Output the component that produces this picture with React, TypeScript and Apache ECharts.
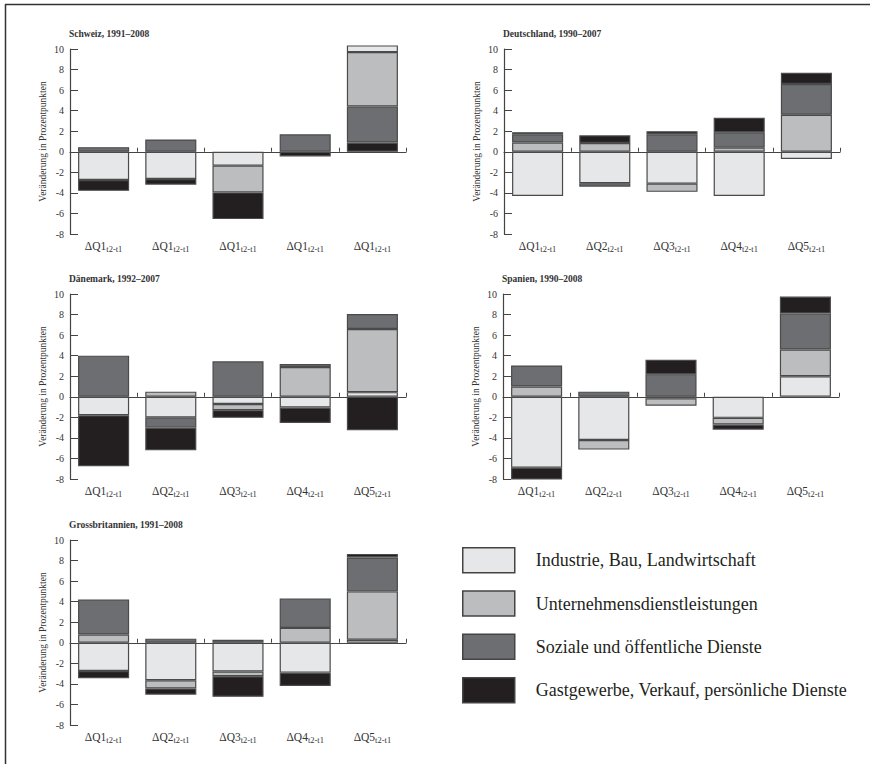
import React, { useEffect, useRef } from 'react';
import * as echarts from 'echarts';

const SECTORS = [
  'Industrie, Bau, Landwirtschaft',
  'Unternehmensdienstleistungen',
  'Soziale und öffentliche Dienste',
  'Gastgewerbe, Verkauf, persönliche Dienste',
];
const COLORS = ['#e6e7e8', '#bcbdbf', '#6d6e71', '#231f20'];

const CATS_CH = ['ΔQ1', 'ΔQ1', 'ΔQ1', 'ΔQ1', 'ΔQ1'];
const CATS = ['ΔQ1', 'ΔQ2', 'ΔQ3', 'ΔQ4', 'ΔQ5'];
const SUB = 't2-t1';

// Schweiz, 1991–2008
const CH_IND = [-2.75, -2.65, -1.35, 0, 0.65];
const CH_UNT = [0, 0, -2.6, 0, 5.3];
const CH_SOZ = [0.45, 1.2, 0, 1.7, 3.5];
const CH_GAST = [-1.05, -0.55, -2.6, -0.45, 0.9];

// Deutschland, 1990–2007
const DE_IND = [-4.3, -3.05, -3.1, -4.3, -0.7];
const DE_UNT = [0.9, 0.85, -0.8, 0.4, 3.6];
const DE_SOZ = [0.8, -0.35, 1.7, 1.5, 3.0];
const DE_GAST = [0.2, 0.75, 0.3, 1.4, 1.1];

// Dänemark, 1992–2007
const DK_IND = [-1.8, -2.0, -0.7, -1.05, 0.45];
const DK_UNT = [0, 0.5, -0.6, 2.9, 6.15];
const DK_SOZ = [4.0, -1.0, 3.45, 0.3, 1.45];
const DK_GAST = [-4.95, -2.2, -0.75, -1.5, -3.25];

// Spanien, 1990–2008
const ES_IND = [-6.9, -4.2, -0.15, -2.05, 2.0];
const ES_UNT = [1.0, -0.94, -0.72, -0.65, 2.6];
const ES_SOZ = [2.05, 0.5, 2.2, 0, 3.5];
const ES_GAST = [-1.15, 0, 1.4, -0.5, 1.65];

// Grossbritannien, 1991–2008
const GB_IND = [-2.75, -3.65, -2.8, -2.9, 0.3];
const GB_UNT = [0.8, -0.8, -0.45, 1.45, 4.7];
const GB_SOZ = [3.4, 0.4, 0.3, 2.85, 3.3];
const GB_GAST = [-0.7, -0.6, -2.0, -1.3, 0.35];

const Y_MIN = -8;
const Y_MAX = 10;
const Y_STEP = 2;

const FONT = "'Liberation Serif', 'DejaVu Serif', serif";

const PANELS = [
  { title: 'Schweiz, 1991–2008', cats: CATS_CH, data: [CH_IND, CH_UNT, CH_SOZ, CH_GAST], neg: [0, 1, 2, 3], pos: [3, 2, 1, 0], left: 70, top: 49 },
  { title: 'Deutschland, 1990–2007', cats: CATS, data: [DE_IND, DE_UNT, DE_SOZ, DE_GAST], neg: [0, 1, 2, 3], pos: [0, 1, 2, 3], left: 504, top: 49 },
  { title: 'Dänemark, 1992–2007', cats: CATS, data: [DK_IND, DK_UNT, DK_SOZ, DK_GAST], neg: [0, 1, 2, 3], pos: [0, 1, 2, 3], left: 70, top: 294 },
  { title: 'Spanien, 1990–2008', cats: CATS, data: [ES_IND, ES_UNT, ES_SOZ, ES_GAST], neg: [0, 1, 2, 3], pos: [0, 1, 2, 3], left: 503, top: 294 },
  { title: 'Grossbritannien, 1991–2008', cats: CATS, data: [GB_IND, GB_UNT, GB_SOZ, GB_GAST], neg: [0, 1, 2, 3], pos: [0, 1, 2, 3], left: 70, top: 540 },
];

const GRID_W = 336;
const GRID_H = 185;

function buildOption() {
  const grid: any[] = [];
  const xAxis: any[] = [];
  const yAxis: any[] = [];
  const series: any[] = [];
  const title: any[] = [];

  PANELS.forEach((p, i) => {
    grid.push({ left: p.left, top: p.top, width: GRID_W, height: GRID_H });
    title.push({
      text: p.title,
      left: p.left - 1,
      top: p.top - 20,
      padding: 0,
      textStyle: { fontFamily: FONT, fontSize: 9.5, fontWeight: 'bold', color: '#333' },
    });
    xAxis.push({
      type: 'category',
      gridIndex: i,
      data: p.cats,
      position: 'bottom',
      axisLine: { show: true, onZero: true, lineStyle: { color: '#444', width: 1.2 } },
      axisTick: { show: true, inside: true, length: 4, lineStyle: { color: '#444', width: 1 } },
      axisLabel: { show: false },
      splitLine: { show: false },
    });
    xAxis.push({
      type: 'category',
      gridIndex: i,
      data: p.cats,
      position: 'bottom',
      axisLine: { show: false, onZero: false },
      axisTick: { show: false },
      splitLine: { show: false },
      axisLabel: {
        show: true,
        interval: 0,
        margin: 4,
        formatter: (v: string) => `{a|${v}}{b|${SUB}}`,
        rich: {
          a: { fontFamily: FONT, fontSize: 11.5, color: '#333', lineHeight: 15 },
          b: { fontFamily: FONT, fontSize: 8.5, color: '#333', lineHeight: 8, verticalAlign: 'bottom' },
        },
      },
    });
    yAxis.push({
      type: 'value',
      gridIndex: i,
      min: Y_MIN,
      max: Y_MAX,
      interval: Y_STEP,
      name: 'Veränderung in Prozentpunkten',
      nameLocation: 'middle',
      nameGap: 22,
      nameTextStyle: { fontFamily: FONT, fontSize: 9.5, color: '#333' },
      axisLine: { show: true, onZero: false, lineStyle: { color: '#444', width: 1.2 } },
      axisTick: { show: true, inside: true, length: 8, lineStyle: { color: '#444', width: 1 } },
      axisLabel: { fontFamily: FONT, fontSize: 10, color: '#333', margin: 6 },
      splitLine: { show: false },
    });

    const mk = (k: number, sign: number) => ({
      type: 'bar',
      name: SECTORS[k],
      xAxisIndex: i * 2,
      yAxisIndex: i,
      stack: 'p' + i,
      barCategoryGap: '24%',
      clip: false,
      itemStyle: { color: COLORS[k], borderColor: '#4a4a4a', borderWidth: 1.2 },
      emphasis: { disabled: true },
      data: p.data[k].map((v) => (sign < 0 ? (v < 0 ? v : '-') : v > 0 ? v : '-')),
    });
    p.neg.forEach((k) => series.push(mk(k, -1)));
    p.pos.forEach((k) => series.push(mk(k, 1)));
  });

  return {
    animation: false,
    backgroundColor: '#ffffff',
    title,
    grid,
    xAxis,
    yAxis,
    series,
    legend: {
      orient: 'vertical',
      left: 462,
      top: 547,
      padding: 0,
      itemWidth: 52,
      itemHeight: 25,
      itemGap: 16.8,
      selectedMode: false,
      icon: 'rect',
      data: SECTORS,
      itemStyle: { borderColor: '#444', borderWidth: 1.5 },
      textStyle: { fontFamily: FONT, fontSize: 18, lineHeight: 20, color: '#231f20', padding: [0, 0, 0, 16] },
    },
    graphic: [
      { type: 'line', shape: { x1: 5, y1: 4.5, x2: 870, y2: 4.5 }, style: { stroke: '#333', lineWidth: 1.5 } },
      { type: 'line', shape: { x1: 5.5, y1: 4, x2: 5.5, y2: 764 }, style: { stroke: '#333', lineWidth: 1.5 } },
    ],
  };
}

export default function App() {
  const ref = useRef<HTMLDivElement>(null);
  useEffect(() => {
    if (!ref.current) return;
    const chart = echarts.init(ref.current, undefined, { renderer: 'svg' });
    chart.setOption(buildOption() as any);
    return () => chart.dispose();
  }, []);
  return (
    <div
      ref={ref}
      style={{ position: 'fixed', left: 0, top: 0, width: 870, height: 764, background: '#fff' }}
    />
  );
}
